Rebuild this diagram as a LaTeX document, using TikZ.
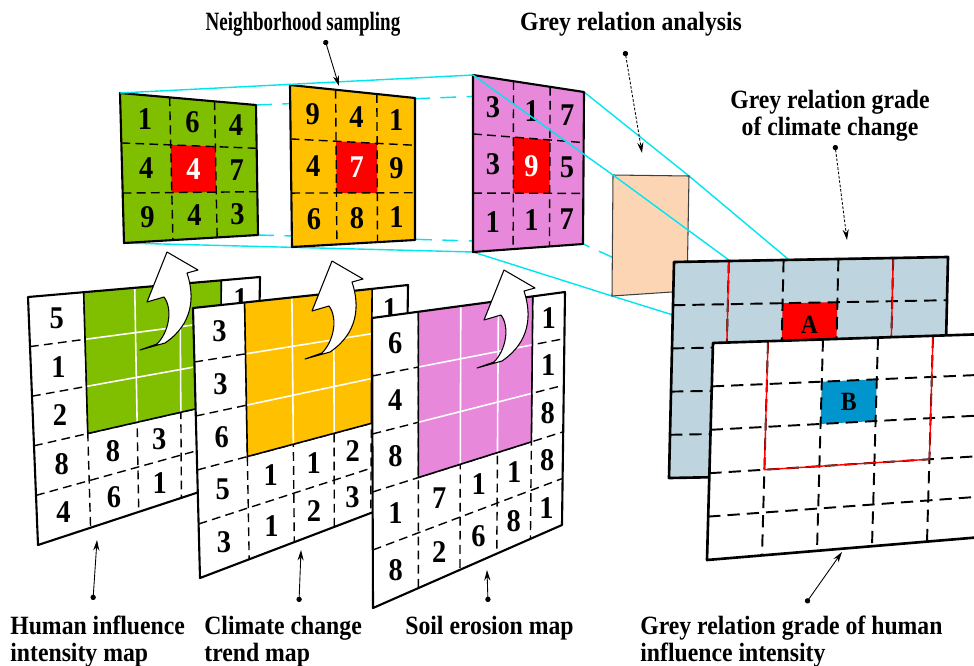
\documentclass[tikz,border=0pt]{standalone}
\usepackage{fontspec}
\usepackage{graphicx}
\setmainfont[FakeStretch=0.9]{Liberation Serif}
\usetikzlibrary{calc,arrows.meta}

\definecolor{mapgreen}{RGB}{128,190,0}
\definecolor{maporange}{RGB}{255,192,0}
\definecolor{mappink}{RGB}{232,136,218}
\definecolor{cellred}{RGB}{255,0,0}
\definecolor{peach}{RGB}{252,213,180}
\definecolor{gradegrey}{RGB}{190,212,222}
\definecolor{cellblue}{RGB}{0,150,205}
\definecolor{linkcyan}{RGB}{0,230,240}

\tikzset{
  mapedge/.style={line width=1.2pt,line join=round},
  celldash/.style={line width=0.8pt,dash pattern=on 5pt off 3pt},
  gradedash/.style={line width=1.1pt,dash pattern=on 7pt off 4pt},
  whitegrid/.style={white,line width=0.9pt},
  linkline/.style={linkcyan,line width=0.8pt},
  linkhidden/.style={linkline,dash pattern=on 9pt off 6pt},
  bendarrow/.style={fill=white,draw=black,line width=0.6pt,line join=round},
  digit/.style={font=\fontsize{18}{18}\selectfont\bfseries,inner sep=0pt},
  gradeletter/.style={font=\fontsize{15}{15}\selectfont\bfseries,inner sep=0pt},
  captext/.style={font=\fontsize{15}{15.1}\selectfont\bfseries,inner sep=0pt},
  pointer/.style={line width=0.5pt,{Circle[length=3pt]}-{Stealth[length=6pt,width=3.5pt]}},
  dottedpointer/.style={pointer,dash pattern=on 1.5pt off 1pt}
}

\begin{document}
\begin{tikzpicture}[x=0.02cm,y=-0.02cm]
\useasboundingbox (0,0) rectangle (974,666);
\clip (0,0) rectangle (974,666);

% corners: sampled windows, analysis panel, grade maps
\coordinate (g-tl) at (120,93);  \coordinate (g-tr) at (256,105);
\coordinate (g-br) at (258,235); \coordinate (g-bl) at (124,243);
\coordinate (o-tl) at (290,85);  \coordinate (o-tr) at (415,98);
\coordinate (o-br) at (415,240); \coordinate (o-bl) at (292,247);
\coordinate (p-tl) at (473,75);  \coordinate (p-tr) at (584,92);
\coordinate (p-br) at (583,244); \coordinate (p-bl) at (473,252);
\coordinate (gra-tl) at (613,175); \coordinate (gra-tr) at (689,176);
\coordinate (gra-br) at (687,291); \coordinate (gra-bl) at (612,296);
\coordinate (cc-tl) at (674,262); \coordinate (cc-tr) at (948,257);
\coordinate (cc-br) at (943,473); \coordinate (cc-bl) at (669,478);
\coordinate (hi-tl) at (713,343); \coordinate (hi-tr) at (988,334);
\coordinate (hi-br) at (982,537); \coordinate (hi-bl) at (707,560);
\coordinate (cc-b) at ($(cc-tl)!0.205!(cc-tr)$);
\coordinate (cc-a) at ($(cc-tl)!0.42!(cc-tr)$);
\coordinate (cc-d) at ($(cc-tl)!0.245!(cc-bl)$);

% cyan links behind the windows
\draw[linkhidden] (g-tr) -- (p-tr);
\draw[linkhidden] (g-br) -- (p-br) -- (gra-br);
\draw[linkline] (g-bl) -- (p-bl) -- (gra-bl) -- (cc-d);
\draw[linkline] (p-tr) -- (gra-tr) -- (cc-a);

% neighborhood windows
\foreach \smp/\fc/\digs in {g/mapgreen/{1,6,4,4,4,7,9,4,3},
    o/maporange/{9,4,1,4,7,9,6,8,1},p/mappink/{3,1,7,3,9,5,1,1,7}}{
  \fill[\fc] (\smp-tl) -- (\smp-tr) -- (\smp-br) -- (\smp-bl) -- cycle;
  \fill[cellred] ($($(\smp-tl)!0.333!(\smp-bl)$)!0.365!($(\smp-tr)!0.333!(\smp-br)$)$)
    -- ($($(\smp-tl)!0.333!(\smp-bl)$)!0.695!($(\smp-tr)!0.333!(\smp-br)$)$)
    -- ($($(\smp-tl)!0.667!(\smp-bl)$)!0.695!($(\smp-tr)!0.667!(\smp-br)$)$)
    -- ($($(\smp-tl)!0.667!(\smp-bl)$)!0.365!($(\smp-tr)!0.667!(\smp-br)$)$) -- cycle;
  \foreach \fr in {0.333,0.667}
    \draw[celldash] ($(\smp-tl)!\fr!(\smp-bl)$) -- ($(\smp-tr)!\fr!(\smp-br)$);
  \foreach \fr in {0.365,0.695}
    \draw[celldash] ($(\smp-tl)!\fr!(\smp-tr)$) -- ($(\smp-bl)!\fr!(\smp-br)$);
  \draw[mapedge] (\smp-tl) -- (\smp-tr) -- (\smp-br) -- (\smp-bl) -- cycle;
  \foreach \dg [count=\idx from 0] in \digs {
    \pgfmathsetmacro\cu{{0.18,0.53,0.85}[int(mod(\idx,3))]}
    \pgfmathsetmacro\cv{(floor(\idx/3)+0.5)/3}
    \ifnum\idx=4 \def\dc{white}\else\def\dc{black}\fi
    \node[digit,text=\dc] (\smp-\idx) at ($($(\smp-tl)!\cv!(\smp-bl)$)!\cu!($(\smp-tr)!\cv!(\smp-br)$)$) {\dg};
  }
}

% grey relation analysis panel
\draw[fill=peach,draw=black!75,line width=0.6pt] (gra-tl) -- (gra-tr) -- (gra-br) -- (gra-bl) -- cycle;
\draw[linkline] (g-tl) -- (p-tl) -- (gra-tl) -- (cc-b);

% grade maps
\foreach \gm/\fc/\cc/\lt in {cc/gradegrey/cellred/A,hi/white/cellblue/B}{
  \fill[\fc] (\gm-tl) -- (\gm-tr) -- (\gm-br) -- (\gm-bl) -- cycle;
  \fill[\cc] ($($(\gm-tl)!0.2!(\gm-bl)$)!0.4!($(\gm-tr)!0.2!(\gm-br)$)$)
    -- ($($(\gm-tl)!0.2!(\gm-bl)$)!0.6!($(\gm-tr)!0.2!(\gm-br)$)$)
    -- ($($(\gm-tl)!0.4!(\gm-bl)$)!0.6!($(\gm-tr)!0.4!(\gm-br)$)$)
    -- ($($(\gm-tl)!0.4!(\gm-bl)$)!0.4!($(\gm-tr)!0.4!(\gm-br)$)$) -- cycle;
  \foreach \fr in {0.2,0.4,0.6,0.8}{
    \draw[gradedash] ($(\gm-tl)!\fr!(\gm-bl)$) -- ($(\gm-tr)!\fr!(\gm-br)$);
    \draw[gradedash] ($(\gm-tl)!\fr!(\gm-tr)$) -- ($(\gm-bl)!\fr!(\gm-br)$);
  }
  \draw[red,line width=0.8pt] ($(\gm-tl)!0.2!(\gm-tr)$) -- ($(\gm-tl)!0.8!(\gm-tr)$)
    -- ($($(\gm-tl)!0.6!(\gm-bl)$)!0.8!($(\gm-tr)!0.6!(\gm-br)$)$)
    -- ($($(\gm-tl)!0.6!(\gm-bl)$)!0.2!($(\gm-tr)!0.6!(\gm-br)$)$) -- cycle;
  \draw[mapedge,line width=1.5pt] (\gm-tl) -- (\gm-tr) -- (\gm-br) -- (\gm-bl) -- cycle;
  \node[gradeletter] (\gm-cell) at ($($(\gm-tl)!0.3!(\gm-bl)$)!0.5!($(\gm-tr)!0.3!(\gm-br)$)$) {\lt};
}

% input maps, back to front
\foreach \mapn/\ptl/\ptr/\pbr/\pbl/\fc/\tip/\digs in {%
  hum/{28,297}/{260,277}/{257,473}/{38,545}/mapgreen/{167,252}/%
  {1/1/5,1/2/1,1/3/2,1/4/8,1/5/4,2/4/8,3/4/3,2/5/6,3/5/1,5/1/1},%
  cli/{193,308}/{408,285}/{405,500}/{200,578}/maporange/{332,261}/%
  {1/1/3,1/2/3,1/3/6,1/4/5,1/5/3,2/4/1,3/4/1,4/4/2,2/5/1,3/5/2,4/5/3,5/1/1},%
  soil/{372,318}/{565,292}/{562,525}/{373,608}/mappink/{504,270}/%
  {1/1/6,1/2/4,1/3/8,1/4/1,1/5/8,2/4/7,3/4/1,4/4/1,2/5/2,3/5/6,4/5/8,5/1/1,5/2/1,5/3/8,5/4/8,5/5/1}}{
  \coordinate (\mapn-tl) at (\ptl); \coordinate (\mapn-tr) at (\ptr);
  \coordinate (\mapn-br) at (\pbr); \coordinate (\mapn-bl) at (\pbl);
  \coordinate (\mapn-wl) at ($(\mapn-tl)!0.6!(\mapn-bl)$);
  \coordinate (\mapn-wr) at ($(\mapn-tr)!0.6!(\mapn-br)$);
  \fill[white] (\mapn-tl) -- (\mapn-tr) -- (\mapn-br) -- (\mapn-bl) -- cycle;
  \foreach \fr in {0.2,0.4,0.6,0.8}
    \draw[celldash] ($(\mapn-tl)!\fr!(\mapn-bl)$) -- ($(\mapn-tr)!\fr!(\mapn-br)$);
  \foreach \fr in {0.24,0.46,0.655,0.833}
    \draw[celldash] ($(\mapn-tl)!\fr!(\mapn-tr)$) -- ($(\mapn-bl)!\fr!(\mapn-br)$);
  % sampled window
  \fill[\fc] ($(\mapn-tl)!0.24!(\mapn-tr)$) -- ($(\mapn-wl)!0.24!(\mapn-wr)$)
    -- ($(\mapn-wl)!0.833!(\mapn-wr)$) -- ($(\mapn-tl)!0.833!(\mapn-tr)$) -- cycle;
  \foreach \fr in {0.2,0.4}
    \draw[whitegrid] ($($(\mapn-tl)!\fr!(\mapn-bl)$)!0.24!($(\mapn-tr)!\fr!(\mapn-br)$)$)
      -- ($($(\mapn-tl)!\fr!(\mapn-bl)$)!0.833!($(\mapn-tr)!\fr!(\mapn-br)$)$);
  \foreach \fr in {0.46,0.655}
    \draw[whitegrid] ($(\mapn-tl)!\fr!(\mapn-tr)$) -- ($(\mapn-wl)!\fr!(\mapn-wr)$);
  \draw[line width=0.9pt] ($(\mapn-tl)!0.24!(\mapn-tr)$) -- ($(\mapn-wl)!0.24!(\mapn-wr)$)
    -- ($(\mapn-wl)!0.833!(\mapn-wr)$) -- ($(\mapn-tl)!0.833!(\mapn-tr)$);
  \draw[mapedge] (\mapn-tl) -- (\mapn-tr) -- (\mapn-br) -- (\mapn-bl) -- cycle;
  \foreach \col/\row/\dg in \digs {
    \pgfmathsetmacro\cu{{0.12,0.35,0.557,0.744,0.917}[int(\col-1)]}
    \pgfmathsetmacro\cv{(\row-0.5)/5}
    \node[digit] (\mapn-\col-\row) at ($($(\mapn-tl)!\cv!(\mapn-bl)$)!\cu!($(\mapn-tr)!\cv!(\mapn-br)$)$) {\dg};
  }
  \draw[bendarrow,shift={(\tip)}] (0,0) -- (31,18) -- (20,21)
    .. controls (28,45) and (26,72) .. (-2,91) -- (-27,98) -- (-10,92)
    .. controls (2,80) and (6,57) .. (-3,45) -- (-20,50) -- cycle;
}

% captions
\node[captext,anchor=north] (ns-lbl) at (303,12) {\scalebox{0.8}[1]{Neighborhood sampling}};
\node[captext,anchor=north] (gra-lbl) at (631,12) {Grey relation analysis};
\node[captext,anchor=north,align=center] (cc-lbl) at (830,90) {Grey relation grade\\of climate change};
\node[captext,anchor=north west,align=left] (hum-lbl) at (10,616) {Human influence\\intensity map};
\node[captext,anchor=north west,align=left] (cli-lbl) at (204,616) {Climate change\\trend map};
\node[captext,anchor=north west] (soil-lbl) at (405,616) {Soil erosion map};
\node[captext,anchor=north west,align=left] (hi-lbl) at (640,616) {Grey relation grade of human\\influence intensity};

% pointers
\coordinate (ns-dot) at (325,40);   \coordinate (ns-tip) at (339,86);
\coordinate (gra-dot) at (625,51);  \coordinate (gra-tip) at (642,153);
\coordinate (cc-dot) at (835,145);  \coordinate (cc-tip) at (847,240);
\coordinate (hum-dot) at (93,600);  \coordinate (hum-tip) at (97,540);
\coordinate (cli-dot) at (299,602); \coordinate (cli-tip) at (301,550);
\coordinate (soil-dot) at (488,602); \coordinate (soil-tip) at (487,570);
\coordinate (hi-dot) at (806,603);  \coordinate (hi-tip) at (842,552);
\draw[pointer] (ns-dot) -- (ns-tip);
\draw[dottedpointer] (gra-dot) -- (gra-tip);
\draw[dottedpointer] (cc-dot) -- (cc-tip);
\draw[pointer] (hum-dot) -- (hum-tip);
\draw[pointer] (cli-dot) -- (cli-tip);
\draw[pointer] (soil-dot) -- (soil-tip);
\draw[pointer] (hi-dot) -- (hi-tip);
\end{tikzpicture}
\end{document}
